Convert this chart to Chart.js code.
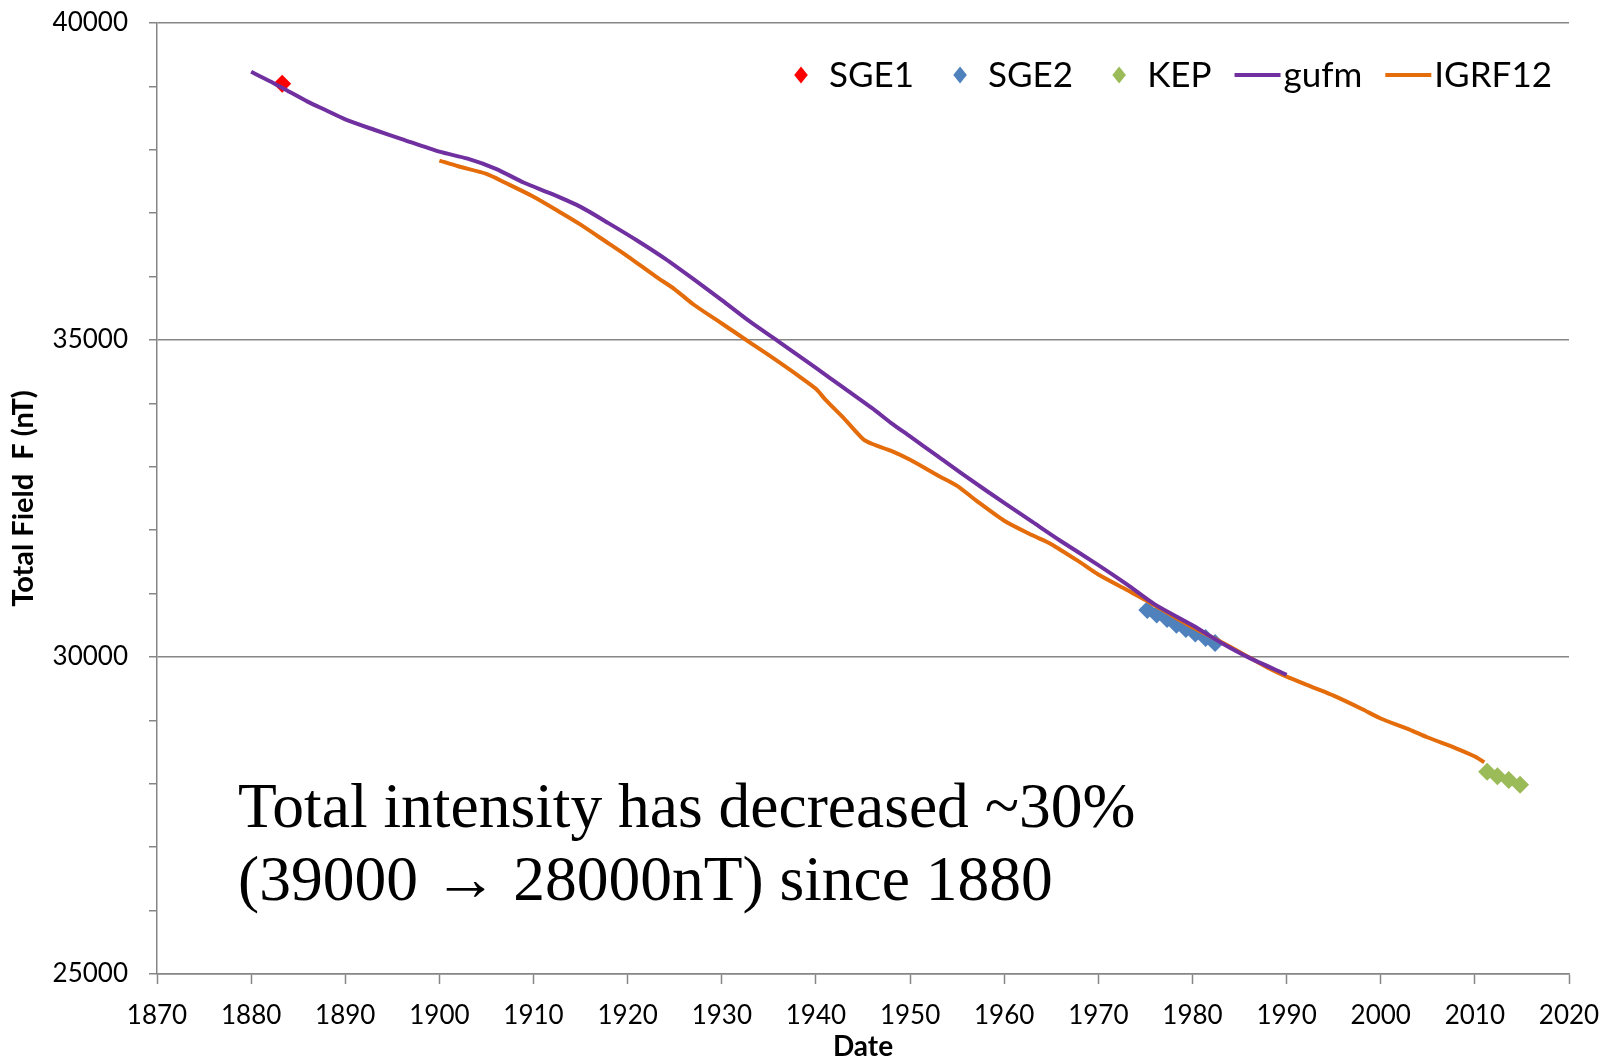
<!DOCTYPE html>
<html>
<head>
<meta charset="utf-8">
<script src="https://cdn.jsdelivr.net/npm/chart.js@4.4.1/dist/chart.umd.min.js"></script>
<style>
  html, body { margin: 0; padding: 0; background: #ffffff; }
  #wrap { width: 1604px; height: 1058px; position: relative; }
</style>
</head>
<body>
<div id="wrap"><canvas id="c" width="1604" height="1058"></canvas></div>
<script>
// ---------------- DATA ----------------
const xTickStart = 1870, xTickEnd = 2020, xTickStep = 10;
const yTickMin = 25000, yTickMax = 40000, yTickStep = 1000, yLabelStep = 5000;

const sge1Years  = [1883.3];
const sge1Values = [39040];

const sge2Years  = [1975.2, 1976.2, 1977.3, 1978.3, 1979.3, 1980.3, 1981.4, 1982.4];
const sge2Values = [30740, 30670, 30600, 30510, 30440, 30370, 30300, 30220];

const kepYears   = [2011.3, 2012.4, 2013.6, 2014.8];
const kepValues  = [28190, 28120, 28060, 27985];

const gufmYears  = [1880, 1882, 1884, 1886, 1888, 1890, 1893, 1896, 1900, 1903, 1906, 1909, 1912, 1915, 1918, 1921, 1924, 1927, 1930, 1933, 1936, 1940, 1943, 1946, 1948, 1950, 1953, 1956, 1960, 1963, 1966, 1970, 1973, 1976, 1980, 1983, 1986, 1990];
const gufmValues = [39230, 39080, 38920, 38760, 38620, 38480, 38320, 38170, 37970, 37860, 37700, 37480, 37300, 37100, 36840, 36570, 36280, 35960, 35630, 35290, 34980, 34560, 34240, 33920, 33690, 33480, 33160, 32840, 32430, 32130, 31830, 31450, 31150, 30830, 30500, 30230, 29990, 29720];

const igrfYears  = [1900, 1902, 1905, 1907, 1910, 1913, 1915, 1918, 1920, 1923, 1925, 1927, 1930, 1933, 1935, 1938, 1940, 1941, 1943, 1945, 1946, 1948, 1950, 1953, 1955, 1957, 1960, 1963, 1965, 1968, 1970, 1973, 1975, 1978, 1980, 1983, 1985, 1988, 1990, 1993, 1995, 1998, 2000, 2003, 2005, 2008, 2010, 2011];
const igrfValues = [37830, 37740, 37620, 37480, 37260, 37000, 36820, 36520, 36320, 36000, 35800, 35560, 35260, 34960, 34760, 34450, 34230, 34060, 33760, 33440, 33360, 33250, 33110, 32860, 32700, 32470, 32150, 31920, 31780, 31500, 31300, 31060, 30900, 30640, 30470, 30240, 30080, 29830, 29690, 29510, 29390, 29180, 29030, 28860, 28730, 28560, 28430, 28340];

const seriesNames = ['SGE1', 'SGE2', 'KEP', 'gufm', 'IGRF12'];
const yAxisTitle = 'Total Field  F (nT)';
const xAxisTitle = 'Date';
const noteLines = ['Total intensity has decreased ~30%', '(39000 \u2192 28000nT) since 1880'];

// ---------------- helpers ----------------
function pts(xs, ys) { return xs.map((x, i) => ({ x: x, y: ys[i] })); }

const COL = { sge1: '#FF0000', sge2: '#4F81BD', kep: '#9BBB59', gufm: '#7030A0', igrf: '#E46C0A' };
const AXIS_GREY = '#868686';
const TICK_FONT = 'Lato';

// datasets: index 0 drawn on top in Chart.js
const datasets = [
  { label: seriesNames[3], data: pts(gufmYears, gufmValues), showLine: true, borderColor: COL.gufm, backgroundColor: COL.gufm, borderWidth: 4, pointRadius: 0, tension: 0.25, kind: 'line', legendIdx: 3 },
  { label: seriesNames[4], data: pts(igrfYears, igrfValues), showLine: true, borderColor: COL.igrf, backgroundColor: COL.igrf, borderWidth: 4, pointRadius: 0, tension: 0.25, kind: 'line', legendIdx: 4 },
  { label: seriesNames[0], data: pts(sge1Years, sge1Values), showLine: false, pointStyle: 'rectRot', pointRadius: 9, backgroundColor: COL.sge1, borderColor: COL.sge1, borderWidth: 0, kind: 'point', legendIdx: 0 },
  { label: seriesNames[1], data: pts(sge2Years, sge2Values), showLine: false, pointStyle: 'rectRot', pointRadius: 9, backgroundColor: COL.sge2, borderColor: COL.sge2, borderWidth: 0, kind: 'point', legendIdx: 1 },
  { label: seriesNames[2], data: pts(kepYears, kepValues), showLine: false, pointStyle: 'rectRot', pointRadius: 9, backgroundColor: COL.kep, borderColor: COL.kep, borderWidth: 0, kind: 'point', legendIdx: 2 }
];

// ---------------- custom legend (inside plot, top right) ----------------
const legendPlugin = {
  id: 'insideLegend',
  afterDraw(chart) {
    const ctx = chart.ctx, ca = chart.chartArea;
    const items = chart.data.datasets.slice().sort((a, b) => a.legendIdx - b.legendIdx);
    ctx.save();
    ctx.font = '35px ' + TICK_FONT;
    ctx.textBaseline = 'middle';
    const cy = ca.top + 52;
    let total = 0;
    const parts = items.map((d, i) => {
      const tw = ctx.measureText(d.label).width;
      const w = (d.kind === 'point' ? 28 : 49) + tw;
      const next = items[i + 1];
      const gap = next ? (next.kind === 'point' ? 46 : 23) : 0;
      total += w + gap;
      return { d, tw, gap };
    });
    let x = ca.right - 17 - total;
    parts.forEach(p => {
      const d = p.d;
      if (d.kind === 'point') {
        const r = 8.5;
        ctx.fillStyle = d.backgroundColor;
        ctx.beginPath();
        ctx.moveTo(x, cy - r); ctx.lineTo(x + r * 0.8, cy); ctx.lineTo(x, cy + r); ctx.lineTo(x - r * 0.8, cy); ctx.closePath();
        ctx.fill();
        ctx.fillStyle = '#000';
        ctx.fillText(d.label, x + 28, cy + 1);
        x += 28 + p.tw + p.gap;
      } else {
        ctx.strokeStyle = d.borderColor;
        ctx.lineWidth = 4;
        ctx.beginPath(); ctx.moveTo(x, cy); ctx.lineTo(x + 46, cy); ctx.stroke();
        ctx.fillStyle = '#000';
        ctx.fillText(d.label, x + 49, cy + 1);
        x += 49 + p.tw + p.gap;
      }
    });
    ctx.restore();
  }
};

// ---------------- annotation text ----------------
const notePlugin = {
  id: 'note',
  afterDraw(chart) {
    const ctx = chart.ctx, ca = chart.chartArea;
    ctx.save();
    ctx.font = '63.5px "Liberation Serif", "Times New Roman", serif';
    ctx.fillStyle = '#000';
    ctx.textBaseline = 'alphabetic';
    ctx.fillText(noteLines[0], ca.left + 81, ca.top + 804);
    ctx.fillText(noteLines[1], ca.left + 81, ca.top + 877);
    ctx.restore();
  }
};

new Chart(document.getElementById('c'), {
  type: 'scatter',
  data: { datasets: datasets },
  plugins: [legendPlugin, notePlugin],
  options: {
    responsive: false,
    animation: false,
    layout: { padding: { top: 23, right: 35, left: 0, bottom: 0 } },
    plugins: { legend: { display: false }, tooltip: { enabled: false } },
    scales: {
      x: {
        type: 'linear', min: xTickStart, max: xTickEnd,
        ticks: { stepSize: xTickStep, color: '#000', font: { family: TICK_FONT, size: 26 }, padding: 16, maxRotation: 0,
                 callback: v => String(v) },
        grid: { drawOnChartArea: false, drawTicks: true, tickLength: 10, tickColor: AXIS_GREY, tickWidth: 1.5 },
        border: { color: AXIS_GREY, width: 1.5 },
        title: { display: true, text: xAxisTitle, color: '#000', font: { family: TICK_FONT, size: 28, weight: 'bold', lineHeight: 0.8 }, padding: { top: 0, bottom: 0 } },
        afterFit: s => { s.height = 84; s.paddingLeft = 0; s.paddingRight = 0; }
      },
      y: {
        type: 'linear', min: yTickMin, max: yTickMax,
        ticks: { stepSize: yTickStep, color: '#000', font: { family: TICK_FONT, size: 26 }, padding: 21,
                 callback: v => (v % yLabelStep === 0 ? String(v) : '') },
        grid: { drawOnChartArea: true, drawTicks: true, tickLength: 8,
                color: c => (c.tick && c.tick.value % yLabelStep === 0 ? AXIS_GREY : 'rgba(0,0,0,0)'),
                tickColor: AXIS_GREY, lineWidth: 1.5, tickWidth: 1.5 },
        border: { color: AXIS_GREY, width: 1.5 },
        title: { display: true, text: yAxisTitle, color: '#000', font: { family: TICK_FONT, size: 29, weight: 'bold' }, padding: { top: 6, bottom: 0 } },
        afterFit: s => { s.width = 157; s.paddingTop = 0; s.paddingBottom = 0; }
      }
    }
  }
});
</script>
</body>
</html>
